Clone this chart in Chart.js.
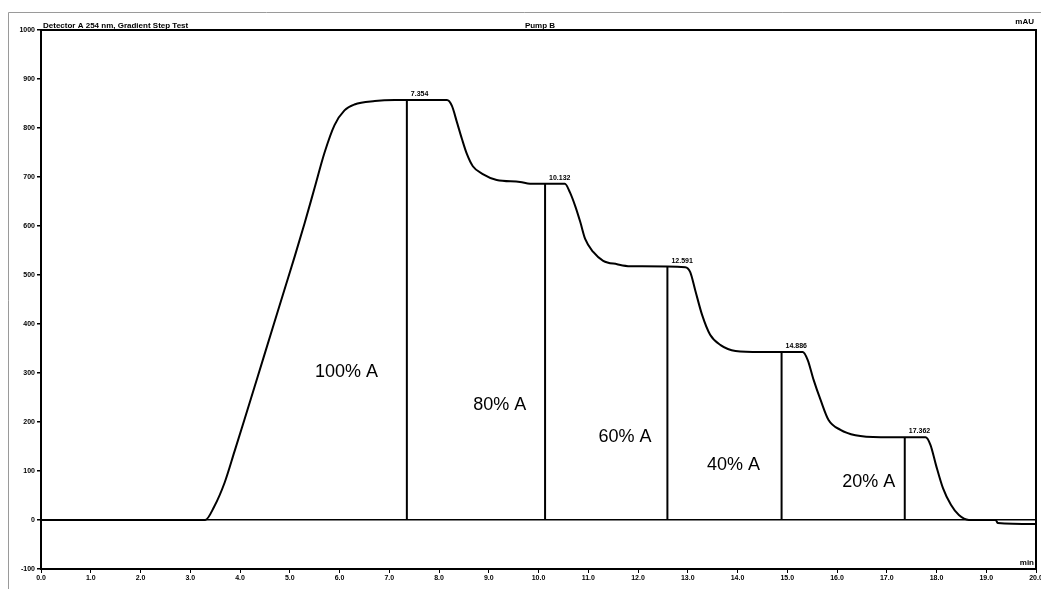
<!DOCTYPE html>
<html>
<head>
<meta charset="utf-8">
<title>Gradient step test</title>
<script src="https://cdn.jsdelivr.net/npm/chart.js@4/dist/chart.umd.min.js"></script>
<style>
  html, body { margin: 0; padding: 0; background: #fff; }
  #wrap { position: relative; width: 1041px; height: 589px; }
  canvas { display: block; }
</style>
</head>
<body>
<div id="wrap"><canvas id="c" width="1041" height="589"></canvas></div>
<script>
// Detector trace: time (min) and signal (mAU)
const timeMin = [
  0.00, 3.30, 3.48, 3.69, 3.89, 4.09, 4.29, 4.49, 4.69, 4.89, 5.10, 5.30, 5.50, 5.70, 5.90, 6.10, 6.30, 6.71, 7.11,
  8.16, 8.26, 8.36, 8.46, 8.56, 8.68, 8.88, 9.16, 9.63, 9.83,
  10.53, 10.63, 10.74, 10.84, 10.94, 11.10, 11.30, 11.58, 11.84,
  12.95, 13.05, 13.15, 13.29, 13.45, 13.66, 13.96, 14.46,
  15.31, 15.41, 15.53, 15.67, 15.83, 16.07, 16.37, 16.88,
  17.78, 17.88, 17.99, 18.13, 18.29, 18.45, 18.65, 19.19, 19.23, 20.00
];
const signalMAU = [
  0, 0, 27, 76, 140, 205, 271, 337, 403, 469, 538, 606, 678, 750, 806, 836, 848, 855, 857,
  857, 845, 812, 778, 747, 722, 706, 694, 690, 686,
  686, 669, 640, 608, 573, 547, 529, 522, 518,
  516, 506, 469, 418, 378, 357, 345, 343,
  343, 327, 286, 245, 204, 184, 173, 169,
  169, 153, 112, 65, 31, 10, 0, 0, -6, -8
];

// Marked plateau points
const peakTimes   = [7.354, 10.132, 12.591, 14.886, 17.362];
const peakHeights = [857, 686, 517, 343, 169];
const peakLabels  = ['7.354', '10.132', '12.591', '14.886', '17.362'];

// Eluent composition of each step
const stepLabels      = ['100% A', '80% A', '60% A', '40% A', '20% A'];
const stepLabelTimes  = [6.14, 9.22, 11.74, 13.92, 16.64];
const stepLabelLevels = [302, 235, 169, 112, 78];

// Axis ticks
const xTicks = [0, 1, 2, 3, 4, 5, 6, 7, 8, 9, 10, 11, 12, 13, 14, 15, 16, 17, 18, 19, 20];
const yTicks = [-100, 0, 100, 200, 300, 400, 500, 600, 700, 800, 900, 1000];

const FONT = "'Liberation Sans', Arial, sans-serif";

const traceData = timeMin.map((t, i) => ({ x: t, y: signalMAU[i] }));
const dropSets = peakTimes.map((t, i) => ({
  data: [{ x: t, y: 0 }, { x: t, y: peakHeights[i] }],
  showLine: true,
  borderColor: '#000',
  borderWidth: 2,
  pointRadius: 0,
  tension: 0
}));

const decorPlugin = {
  id: 'decor',
  beforeDraw(chart) {
    const ctx = chart.ctx;
    ctx.save();
    ctx.fillStyle = '#fff';
    ctx.fillRect(0, 0, chart.width, chart.height);
    // window frame
    ctx.strokeStyle = '#9a9a9a';
    ctx.lineWidth = 1;
    ctx.beginPath();
    ctx.moveTo(8.5, chart.height);
    ctx.lineTo(8.5, 12.5);
    ctx.lineTo(chart.width, 12.5);
    ctx.stroke();
    ctx.restore();
  },
  afterDraw(chart) {
    const ctx = chart.ctx;
    const a = chart.chartArea;
    const xs = chart.scales.x, ys = chart.scales.y;
    ctx.save();
    // top and right frame lines
    ctx.strokeStyle = '#000';
    ctx.lineWidth = 2;
    ctx.beginPath();
    ctx.moveTo(a.left, a.top);
    ctx.lineTo(a.right, a.top);
    ctx.lineTo(a.right, a.bottom);
    ctx.stroke();

    // header texts
    ctx.fillStyle = '#000';
    ctx.font = 'bold 8px ' + FONT;
    ctx.textBaseline = 'alphabetic';
    ctx.textAlign = 'left';
    ctx.fillText('Detector A 254 nm, Gradient Step Test', a.left + 2, a.top - 2);
    ctx.textAlign = 'center';
    ctx.fillText('Pump B', 540, a.top - 2);
    ctx.textAlign = 'right';
    ctx.fillText('mAU', a.right - 2, a.top - 6);
    ctx.fillText('min', a.right - 2, a.bottom - 4);

    // plateau time labels
    ctx.font = 'bold 7px ' + FONT;
    ctx.textAlign = 'left';
    peakTimes.forEach((t, i) => {
      const px = xs.getPixelForValue(t);
      const py = ys.getPixelForValue(peakHeights[i]);
      ctx.fillText(peakLabels[i], px + 4, py - 4);
    });

    // step composition labels
    ctx.font = '18px ' + FONT;
    ctx.textAlign = 'center';
    ctx.textBaseline = 'middle';
    stepLabels.forEach((s, i) => {
      ctx.fillText(s, xs.getPixelForValue(stepLabelTimes[i]), ys.getPixelForValue(stepLabelLevels[i]));
    });
    ctx.restore();
  }
};

new Chart(document.getElementById('c'), {
  type: 'scatter',
  data: {
    datasets: [{
      data: traceData,
      showLine: true,
      borderColor: '#000',
      borderWidth: 2,
      pointRadius: 0,
      cubicInterpolationMode: 'monotone'
    }, ...dropSets]
  },
  options: {
    responsive: false,
    animation: false,
    devicePixelRatio: 1,
    layout: { padding: { top: 30, right: 5, left: 0, bottom: 0 } },
    plugins: { legend: { display: false }, tooltip: { enabled: false } },
    scales: {
      x: {
        type: 'linear',
        min: 0, max: 20,
        afterBuildTicks: s => { s.ticks = xTicks.map(v => ({ value: v })); },
        afterFit: s => { s.height = 20; s.paddingLeft = 0; s.paddingRight = 0; },
        ticks: {
          autoSkip: false,
          maxRotation: 0,
          padding: 1,
          color: '#000',
          font: { family: FONT, size: 7, weight: 'bold' },
          callback: v => Number(v).toFixed(1)
        },
        grid: { drawOnChartArea: false, color: '#000', tickLength: 4, tickColor: '#000' },
        border: { color: '#000', width: 2 }
      },
      y: {
        type: 'linear',
        min: -100, max: 1000,
        afterBuildTicks: s => { s.ticks = yTicks.map(v => ({ value: v })); },
        afterFit: s => { s.width = 41; s.paddingTop = 0; s.paddingBottom = 0; },
        ticks: {
          autoSkip: false,
          padding: 2,
          color: '#000',
          font: { family: FONT, size: 7, weight: 'bold' },
          callback: v => String(v)
        },
        grid: {
          color: c => (c.tick && c.tick.value === 0) ? '#000' : 'rgba(0,0,0,0)',
          lineWidth: 1.5,
          tickLength: 4,
          tickColor: '#000'
        },
        border: { color: '#000', width: 2 }
      }
    }
  },
  plugins: [decorPlugin]
});
</script>
</body>
</html>
